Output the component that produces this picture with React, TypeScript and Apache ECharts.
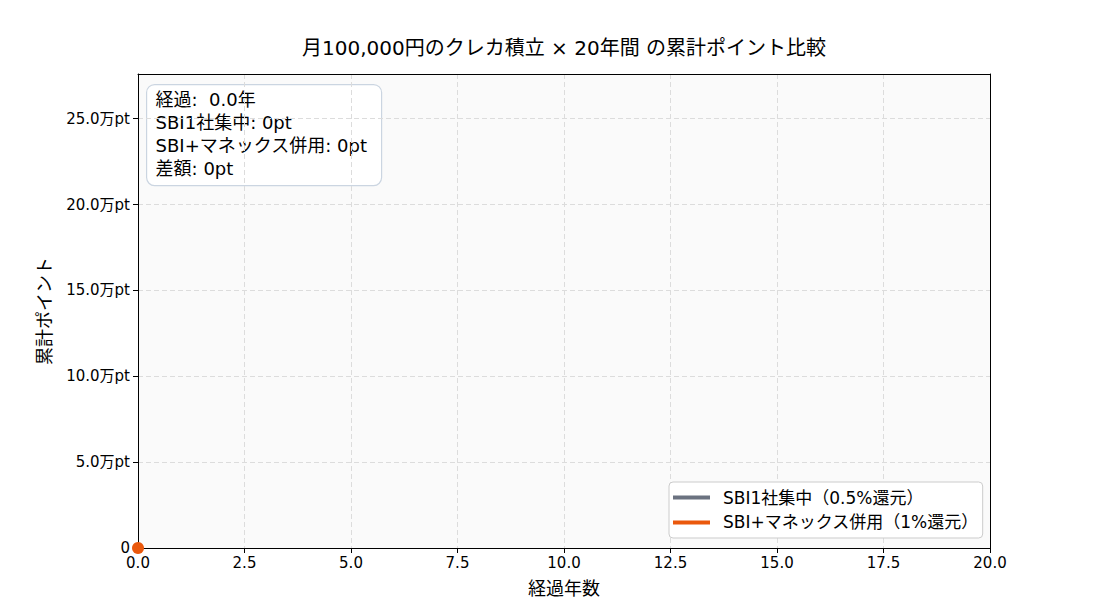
import React, { useEffect, useRef } from 'react';
import * as echarts from 'echarts';

const FONT = '"DejaVu Sans", "Noto Sans CJK JP", sans-serif';

const seriesNames = ['SBI1社集中（0.5%還元）', 'SBI+マネックス併用（1%還元）'];
const seriesColors = ['#6b7280', '#ea580c'];
const singleData: number[][] = [[0, 0]];
const doubleData: number[][] = [[0, 0]];
const infoLines = ['経過:  0.0年', 'SBI1社集中: 0pt', 'SBI+マネックス併用: 0pt', '差額: 0pt'];

const App: React.FC = () => {
    const chartRef = useRef<HTMLDivElement>(null);

    useEffect(() => {
        document.body.style.margin = '0';
        if (chartRef.current) {
            const chart = echarts.init(chartRef.current, undefined, { renderer: 'svg' });

            const frameAxis = {
                type: 'value',
                axisLine: { show: true, onZero: false, lineStyle: { color: '#000' } },
                axisTick: { show: false },
                axisLabel: { show: false },
                splitLine: { show: false },
            };

            const option = {
                animation: false,
                textStyle: { fontFamily: FONT },
                grid: {
                    left: 138,
                    right: 110,
                    top: 74,
                    bottom: 68,
                    show: true,
                    backgroundColor: '#fafafa',
                    borderWidth: 0,
                },
                xAxis: [
                    {
                        type: 'value',
                        min: 0,
                        max: 20,
                        interval: 2.5,
                        name: '経過年数',
                        nameLocation: 'middle',
                        nameGap: 31,
                        nameTextStyle: { fontSize: 18, color: '#000', fontFamily: FONT },
                        axisLine: { onZero: false, lineStyle: { color: '#000' } },
                        axisTick: { show: true, length: 5, lineStyle: { color: '#000' } },
                        axisLabel: {
                            color: '#000',
                            fontSize: 15,
                            margin: 7,
                            fontFamily: FONT,
                            formatter: (v: number) => v.toFixed(1),
                        },
                        splitLine: { show: true, lineStyle: { color: '#dcdcdc', type: [5, 3] } },
                    },
                    { ...frameAxis, position: 'top', min: 0, max: 20 },
                ],
                yAxis: [
                    {
                        type: 'value',
                        min: 0,
                        max: 276000,
                        interval: 50000,
                        name: '累計ポイント',
                        nameLocation: 'middle',
                        nameGap: 85,
                        nameTextStyle: { fontSize: 18, color: '#000', fontFamily: FONT },
                        axisLine: { show: true, onZero: false, lineStyle: { color: '#000' } },
                        axisTick: { show: true, length: 5, lineStyle: { color: '#000' } },
                        axisLabel: {
                            color: '#000',
                            fontSize: 15,
                            margin: 8,
                            fontFamily: FONT,
                            showMaxLabel: false,
                            formatter: (v: number) => (v === 0 ? '0' : `${(v / 10000).toFixed(1)}万pt`),
                        },
                        splitLine: { show: true, lineStyle: { color: '#dcdcdc', type: [5, 3] } },
                    },
                    { ...frameAxis, position: 'right', min: 0, max: 276000 },
                ],
                legend: {
                    orient: 'vertical',
                    left: 669,
                    top: 482,
                    data: seriesNames,
                    backgroundColor: '#fff',
                    borderColor: '#cccccc',
                    borderWidth: 1,
                    borderRadius: 4,
                    padding: [7, 4, 7, 4],
                    itemWidth: 37,
                    itemHeight: 4,
                    itemGap: 8,
                    icon: 'rect',
                    textStyle: { fontSize: 17, color: '#000', fontFamily: FONT, padding: [0, 0, 0, 8] },
                },
                graphic: [
                    {
                        type: 'text',
                        x: 564,
                        y: 48,
                        style: {
                            text: '月100,000円のクレカ積立 × 20年間 の累計ポイント比較',
                            font: `20px ${FONT}`,
                            fill: '#000',
                            align: 'center',
                            verticalAlign: 'middle',
                        },
                    },
                    {
                        type: 'group',
                        left: 146,
                        top: 84,
                        children: [
                            {
                                type: 'rect',
                                shape: { x: 0, y: 0, width: 235, height: 101, r: 8 },
                                style: { fill: '#fff', stroke: '#cbd5e1', lineWidth: 1.2 },
                            },
                            {
                                type: 'text',
                                x: 9,
                                y: 3,
                                style: {
                                    text: infoLines.join('\n'),
                                    font: `18px ${FONT}`,
                                    lineHeight: 23,
                                    fill: '#000',
                                },
                            },
                        ],
                    },
                ],
                series: [
                    {
                        name: seriesNames[0],
                        type: 'line',
                        data: singleData,
                        color: seriesColors[0],
                        lineStyle: { width: 3 },
                        symbol: 'circle',
                        symbolSize: 10,
                        showSymbol: true,
                    },
                    {
                        name: seriesNames[1],
                        type: 'line',
                        data: doubleData,
                        color: seriesColors[1],
                        lineStyle: { width: 3 },
                        symbol: 'circle',
                        symbolSize: 12,
                        showSymbol: true,
                    },
                ],
            };

            chart.setOption(option);

            return () => {
                chart.dispose();
            };
        }
    }, []);

    return <div ref={chartRef} style={{ width: '1100px', height: '616px' }} />;
};

export default App;
